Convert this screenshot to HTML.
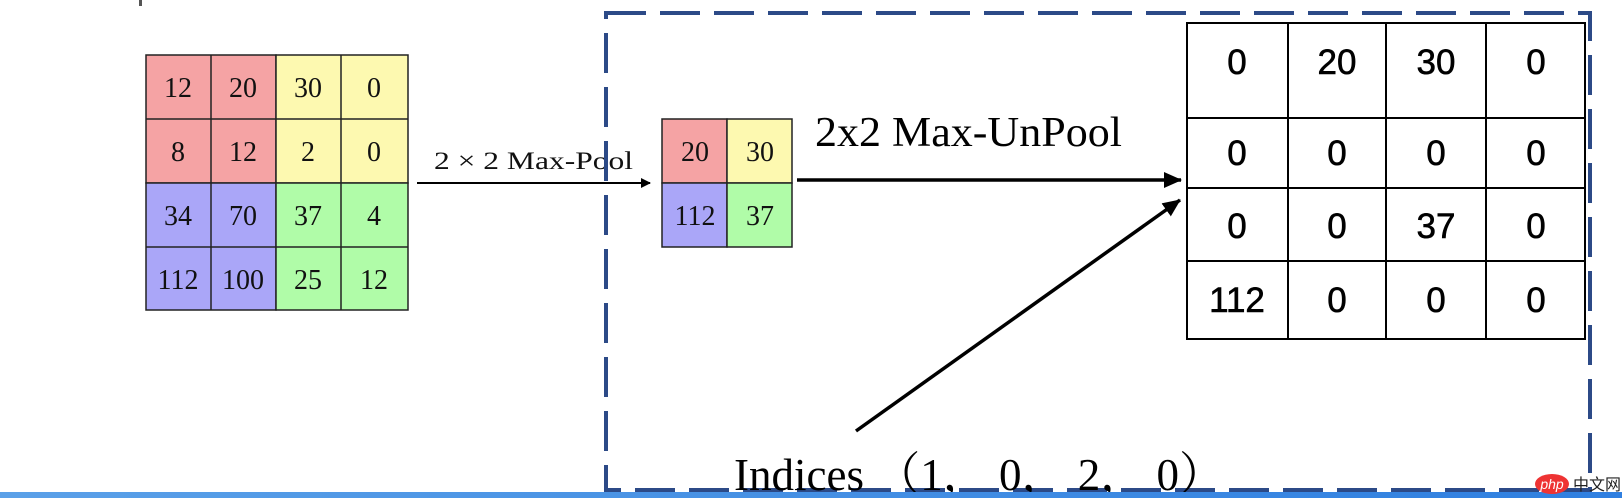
<!DOCTYPE html>
<html><head><meta charset="utf-8"><style>
html,body{margin:0;padding:0;background:#fff;}
body{width:1622px;height:498px;overflow:hidden;position:relative;}
svg{position:absolute;left:0;top:0;}
</style></head><body>
<svg width="1622" height="498" viewBox="0 0 1622 498" xmlns="http://www.w3.org/2000/svg">
<defs>
<marker id="ah" markerWidth="10" markerHeight="10" refX="9" refY="5" orient="auto" markerUnits="userSpaceOnUse">
<path d="M0,0 L10,5 L0,10 z" fill="#000"/></marker>
<marker id="ah2" markerWidth="18" markerHeight="16" refX="17" refY="8" orient="auto" markerUnits="userSpaceOnUse">
<path d="M0,0 L18,8 L0,16 z" fill="#000"/></marker>
<linearGradient id="bar" x1="0" x2="1"><stop offset="0" stop-color="#5aa0e8"/><stop offset="1" stop-color="#2f7fe0"/></linearGradient>
</defs>
<rect x="139" y="0" width="3" height="6" fill="#555"/>
<g stroke="#222" stroke-width="1.5">
<rect x="146" y="55" width="130" height="128" fill="#f5a3a4"/>
<rect x="276" y="55" width="132" height="128" fill="#fdf9b0"/>
<rect x="146" y="183" width="130" height="127" fill="#aaa6f8"/>
<rect x="276" y="183" width="132" height="127" fill="#b0fca8"/>
<path d="M211,55V310M341,55V310M146,119H408M146,247H408" fill="none"/>
</g>
<g font-family="Liberation Serif, serif" font-size="28" text-anchor="middle" fill="#111">
<text x="178" y="97">12</text><text x="243" y="97">20</text><text x="308" y="97">30</text><text x="374" y="97">0</text>
<text x="178" y="161">8</text><text x="243" y="161">12</text><text x="308" y="161">2</text><text x="374" y="161">0</text>
<text x="178" y="225">34</text><text x="243" y="225">70</text><text x="308" y="225">37</text><text x="374" y="225">4</text>
<text x="178" y="289">112</text><text x="243" y="289">100</text><text x="308" y="289">25</text><text x="374" y="289">12</text>
</g>
<line x1="417" y1="183" x2="650" y2="183" stroke="#000" stroke-width="2" marker-end="url(#ah)"/>
<text x="434" y="169" font-family="Liberation Serif, serif" font-size="25" textLength="199" lengthAdjust="spacingAndGlyphs" fill="#111">2 × 2 Max-Pool</text>
<g stroke="#222" stroke-width="1.5">
<rect x="662" y="119" width="65" height="64" fill="#f5a3a4"/>
<rect x="727" y="119" width="65" height="64" fill="#fdf9b0"/>
<rect x="662" y="183" width="65" height="64" fill="#aaa6f8"/>
<rect x="727" y="183" width="65" height="64" fill="#b0fca8"/>
</g>
<g font-family="Liberation Serif, serif" font-size="28" text-anchor="middle" fill="#111">
<text x="695" y="161">20</text><text x="760" y="161">30</text>
<text x="695" y="225">112</text><text x="760" y="225">37</text>
</g>
<rect x="606" y="13" width="984" height="477" fill="none" stroke="#2c4a87" stroke-width="4" stroke-dasharray="40 14"/>
<line x1="797" y1="180" x2="1181" y2="180" stroke="#000" stroke-width="3.5" marker-end="url(#ah2)"/>
<text x="815" y="146" font-family="Liberation Serif, serif" font-size="42" textLength="307" lengthAdjust="spacingAndGlyphs" fill="#000">2x2 Max-UnPool</text>
<line x1="856" y1="431" x2="1180" y2="200" stroke="#000" stroke-width="3.5" marker-end="url(#ah2)"/>
<rect x="1187" y="23" width="398" height="316" fill="#fff" stroke="#000" stroke-width="2"/>
<path d="M1288,23V339M1386,23V339M1486,23V339M1187,118H1585M1187,188H1585M1187,261H1585" stroke="#000" stroke-width="2" fill="none"/>
<g font-family="Liberation Sans, sans-serif" font-size="35" text-anchor="middle" fill="#000" stroke="#000" stroke-width="0.6">
<text x="1237" y="74">0</text><text x="1337" y="74">20</text><text x="1436" y="74">30</text><text x="1536" y="74">0</text>
<text x="1237" y="165">0</text><text x="1337" y="165">0</text><text x="1436" y="165">0</text><text x="1536" y="165">0</text>
<text x="1237" y="238">0</text><text x="1337" y="238">0</text><text x="1436" y="238">37</text><text x="1536" y="238">0</text>
<text x="1237" y="312">112</text><text x="1337" y="312">0</text><text x="1436" y="312">0</text><text x="1536" y="312">0</text>
</g>
<text x="734" y="490" font-family="Liberation Serif, 'Noto Serif CJK SC', serif" font-size="46" textLength="490" lengthAdjust="spacingAndGlyphs" fill="#000">Indices （1， 0， 2， 0）</text>
<rect x="0" y="492" width="1622" height="6" fill="url(#bar)"/>
<ellipse cx="1552" cy="484" rx="17" ry="10" fill="#e33"/>
<text x="1552" y="489" font-family="Liberation Sans, sans-serif" font-size="14" font-style="italic" fill="#fff" text-anchor="middle">php</text>
<text x="1573" y="490" font-family="'Noto Sans CJK SC', sans-serif" font-size="16" fill="#222">中文网</text>
</svg>
</body></html>
